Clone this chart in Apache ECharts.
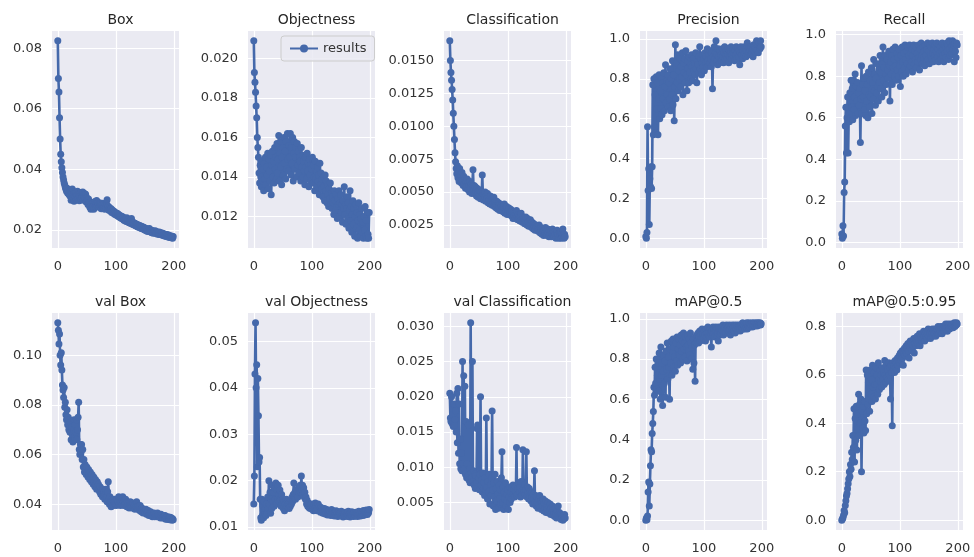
<!DOCTYPE html>
<html><head><meta charset="utf-8">
<script src="https://cdn.jsdelivr.net/npm/echarts@6/dist/echarts.min.js"></script>
<style>html,body{margin:0;padding:0;background:#fff}#c{width:974px;height:557px}</style>
</head><body><div id="c"></div>
<script>
// ---- data (epochs 0..199) ----
const titles = ['Box','Objectness','Classification','Precision','Recall','val Box','val Objectness','val Classification','mAP@0.5','mAP@0.5:0.95'];
const xTicks = [0, 100, 200];

const box = [
0.0824,0.0700,0.0655,0.0570,0.0500,0.0450,0.0425,0.0405,0.0390,0.0375,
0.0365,0.0355,0.0348,0.0340,0.0335,0.0328,0.0338,0.0322,0.0330,0.0318,
0.0325,0.0312,0.0330,0.0298,0.0320,0.0335,0.0305,0.0318,0.0295,0.0326,
0.0310,0.0322,0.0300,0.0315,0.0328,0.0305,0.0318,0.0296,0.0312,0.0324,
0.0302,0.0316,0.0308,0.0325,0.0298,0.0312,0.0320,0.0303,0.0318,0.0292,
0.0306,0.0298,0.0284,0.0302,0.0290,0.0276,0.0292,0.0268,0.0285,0.0272,
0.0290,0.0278,0.0268,0.0284,0.0294,0.0276,0.0288,0.0297,0.0280,0.0291,
0.0283,0.0275,0.0290,0.0279,0.0286,0.0270,0.0282,0.0288,0.0274,0.0284,
0.0276,0.0268,0.0282,0.0273,0.0286,0.0300,0.0272,0.0278,0.0265,0.0274,
0.0268,0.0262,0.0270,0.0258,0.0266,0.0260,0.0255,0.0262,0.0252,0.0258,
0.0250,0.0256,0.0248,0.0254,0.0245,0.0251,0.0243,0.0248,0.0240,0.0246,
0.0238,0.0244,0.0236,0.0242,0.0232,0.0239,0.0230,0.0236,0.0228,0.0240,
0.0232,0.0226,0.0235,0.0224,0.0230,0.0222,0.0228,0.0238,0.0220,0.0226,
0.0218,0.0224,0.0216,0.0222,0.0214,0.0220,0.0212,0.0218,0.0210,0.0216,
0.0209,0.0215,0.0207,0.0213,0.0205,0.0211,0.0204,0.0210,0.0202,0.0208,
0.0200,0.0206,0.0198,0.0204,0.0196,0.0203,0.0195,0.0201,0.0205,0.0197,
0.0193,0.0199,0.0191,0.0198,0.0194,0.0189,0.0196,0.0190,0.0197,0.0192,
0.0188,0.0194,0.0186,0.0192,0.0187,0.0193,0.0185,0.0191,0.0184,0.0190,
0.0183,0.0189,0.0182,0.0187,0.0180,0.0186,0.0179,0.0185,0.0178,0.0184,
0.0177,0.0183,0.0176,0.0181,0.0175,0.0180,0.0174,0.0179,0.0173,0.0178];

const objectness = [
0.0209,0.0193,0.0188,0.0183,0.0176,0.0170,0.0160,0.0155,0.0150,0.0142,
0.0137,0.0146,0.0140,0.0135,0.0148,0.0138,0.0144,0.0133,0.0147,0.0139,
0.0150,0.0136,0.0145,0.0141,0.0152,0.0134,0.0149,0.0143,0.0138,0.0151,
0.0131,0.0146,0.0153,0.0140,0.0148,0.0137,0.0155,0.0144,0.0150,0.0139,
0.0157,0.0142,0.0149,0.0161,0.0138,0.0152,0.0145,0.0158,0.0136,0.0150,
0.0155,0.0141,0.0160,0.0147,0.0153,0.0139,0.0158,0.0144,0.0162,0.0149,
0.0143,0.0156,0.0150,0.0162,0.0141,0.0155,0.0147,0.0160,0.0138,0.0152,
0.0158,0.0144,0.0150,0.0155,0.0140,0.0157,0.0146,0.0153,0.0142,0.0150,
0.0148,0.0138,0.0155,0.0145,0.0151,0.0140,0.0148,0.0143,0.0136,0.0150,
0.0145,0.0139,0.0152,0.0143,0.0147,0.0135,0.0149,0.0141,0.0146,0.0138,
0.0144,0.0150,0.0137,0.0146,0.0140,0.0133,0.0148,0.0139,0.0143,0.0135,
0.0145,0.0138,0.0141,0.0131,0.0147,0.0136,0.0142,0.0134,0.0139,0.0130,
0.0140,0.0135,0.0128,0.0141,0.0133,0.0138,0.0127,0.0136,0.0131,0.0125,
0.0134,0.0129,0.0137,0.0126,0.0132,0.0124,0.0130,0.0127,0.0121,0.0133,
0.0128,0.0123,0.0131,0.0125,0.0119,0.0129,0.0126,0.0133,0.0120,0.0127,
0.0131,0.0122,0.0126,0.0117,0.0128,0.0124,0.0135,0.0121,0.0126,0.0116,
0.0124,0.0130,0.0119,0.0127,0.0114,0.0123,0.0133,0.0118,0.0125,0.0112,
0.0121,0.0128,0.0116,0.0124,0.0110,0.0120,0.0126,0.0114,0.0122,0.0109,
0.0118,0.0127,0.0113,0.0121,0.0110,0.0119,0.0124,0.0112,0.0117,0.0109,
0.0120,0.0113,0.0125,0.0110,0.0118,0.0109,0.0122,0.0111,0.0109,0.0122];

const classification = [
0.0165,0.0150,0.0141,0.0135,0.0128,0.0120,0.0110,0.0100,0.0090,0.0080,
0.0073,0.0068,0.0064,0.0070,0.0061,0.0066,0.0058,0.0068,0.0060,0.0063,
0.0057,0.0065,0.0059,0.0055,0.0062,0.0056,0.0060,0.0053,0.0058,0.0054,
0.0060,0.0052,0.0057,0.0055,0.0050,0.0058,0.0053,0.0056,0.0049,0.0055,
0.0067,0.0052,0.0055,0.0049,0.0054,0.0051,0.0047,0.0053,0.0050,0.0046,
0.0052,0.0048,0.0051,0.0045,0.0050,0.0047,0.0063,0.0049,0.0044,0.0048,
0.0046,0.0050,0.0043,0.0047,0.0045,0.0049,0.0042,0.0046,0.0044,0.0041,
0.0047,0.0043,0.0045,0.0040,0.0044,0.0042,0.0046,0.0039,0.0043,0.0041,
0.0038,0.0043,0.0040,0.0037,0.0042,0.0039,0.0036,0.0041,0.0038,0.0040,
0.0036,0.0039,0.0035,0.0038,0.0041,0.0034,0.0037,0.0035,0.0039,0.0033,
0.0036,0.0034,0.0038,0.0033,0.0035,0.0037,0.0032,0.0036,0.0033,0.0030,
0.0035,0.0032,0.0034,0.0030,0.0033,0.0036,0.0031,0.0029,0.0033,0.0030,
0.0032,0.0028,0.0031,0.0034,0.0029,0.0027,0.0031,0.0028,0.0030,0.0026,
0.0029,0.0031,0.0027,0.0025,0.0030,0.0027,0.0024,0.0028,0.0026,0.0029,
0.0025,0.0023,0.0027,0.0025,0.0022,0.0026,0.0024,0.0021,0.0025,0.0023,
0.0021,0.0024,0.0022,0.0020,0.0025,0.0022,0.0019,0.0023,0.0021,0.0018,
0.0022,0.0020,0.0017,0.0021,0.0019,0.0023,0.0018,0.0020,0.0017,0.0022,
0.0019,0.0016,0.0021,0.0018,0.0020,0.0016,0.0019,0.0022,0.0017,0.0019,
0.0016,0.0020,0.0018,0.0015,0.0019,0.0021,0.0016,0.0018,0.0015,0.0019,
0.0017,0.0020,0.0015,0.0018,0.0016,0.0022,0.0017,0.0015,0.0018,0.0016];

const precision = [
0.010,0.002,0.030,0.560,0.240,0.350,0.070,0.300,0.260,0.360,
0.250,0.360,0.770,0.520,0.800,0.560,0.720,0.530,0.810,0.650,
0.780,0.520,0.700,0.820,0.600,0.740,0.650,0.800,0.620,0.780,
0.700,0.830,0.640,0.760,0.870,0.680,0.790,0.720,0.820,0.660,
0.780,0.700,0.850,0.640,0.800,0.720,0.890,0.670,0.820,0.590,
0.760,0.970,0.700,0.880,0.780,0.920,0.740,0.840,0.800,0.900,
0.760,0.860,0.810,0.930,0.720,0.880,0.830,0.900,0.780,0.940,
0.820,0.740,0.890,0.850,0.780,0.910,0.830,0.870,0.800,0.920,
0.860,0.790,0.900,0.840,0.880,0.820,0.930,0.850,0.780,0.890,
0.870,0.830,0.910,0.960,0.850,0.900,0.820,0.880,0.920,0.860,
0.900,0.840,0.930,0.880,0.910,0.860,0.950,0.890,0.870,0.920,
0.880,0.940,0.900,0.860,0.930,0.750,0.910,0.880,0.960,0.900,
0.930,0.990,0.890,0.920,0.870,0.950,0.910,0.880,0.940,0.900,
0.920,0.890,0.950,0.910,0.880,0.930,0.960,0.900,0.920,0.940,
0.900,0.950,0.920,0.880,0.940,0.910,0.930,0.960,0.900,0.920,
0.950,0.910,0.930,0.890,0.940,0.920,0.960,0.900,0.930,0.950,
0.910,0.940,0.870,0.930,0.960,0.920,0.950,0.900,0.940,0.920,
0.960,0.930,0.950,0.910,0.940,0.980,0.920,0.950,0.930,0.960,
0.940,0.920,0.960,0.930,0.950,0.910,0.970,0.940,0.960,0.930,
0.950,0.990,0.940,0.970,0.930,0.980,0.960,0.950,0.990,0.960];

const recall = [
0.040,0.020,0.080,0.030,0.240,0.290,0.560,0.650,0.430,0.600,
0.700,0.430,0.620,0.580,0.720,0.600,0.780,0.650,0.740,0.590,
0.780,0.640,0.700,0.810,0.610,0.750,0.680,0.770,0.620,0.720,
0.660,0.740,0.480,0.690,0.850,0.620,0.760,0.700,0.790,0.640,
0.730,0.610,0.800,0.680,0.760,0.600,0.820,0.710,0.650,0.780,
0.700,0.840,0.620,0.770,0.690,0.880,0.730,0.810,0.660,0.790,
0.720,0.860,0.750,0.680,0.830,0.770,0.900,0.740,0.820,0.700,
0.860,0.940,0.780,0.840,0.720,0.900,0.810,0.760,0.880,0.830,
0.790,0.920,0.850,0.680,0.870,0.810,0.900,0.760,0.930,0.840,
0.880,0.800,0.940,0.850,0.780,0.910,0.830,0.890,0.800,0.930,
0.850,0.750,0.900,0.820,0.940,0.870,0.800,0.910,0.840,0.950,
0.880,0.810,0.920,0.860,0.940,0.830,0.900,0.950,0.850,0.910,
0.870,0.930,0.820,0.900,0.950,0.860,0.920,0.880,0.940,0.840,
0.910,0.870,0.950,0.890,0.830,0.930,0.880,0.960,0.900,0.860,
0.940,0.890,0.920,0.850,0.950,0.900,0.870,0.930,0.960,0.880,
0.920,0.860,0.950,0.900,0.940,0.880,0.960,0.910,0.870,0.930,
0.900,0.950,0.880,0.920,0.960,0.890,0.930,0.870,0.950,0.910,
0.940,0.880,0.920,0.960,0.900,0.930,0.870,0.950,0.910,0.940,
0.890,0.960,0.920,0.950,0.880,0.970,0.930,0.900,0.960,0.940,
0.910,0.970,0.930,0.950,0.870,0.960,0.920,0.890,0.960,0.950];

const valBox = [
0.1130,0.1100,0.1045,0.1085,0.1000,0.0960,0.1010,0.0940,0.0880,0.0860,
0.0830,0.0870,0.0790,0.0810,0.0760,0.0740,0.0780,0.0720,0.0750,0.0700,
0.0740,0.0690,0.0730,0.0660,0.0710,0.0680,0.0650,0.0700,0.0740,0.0670,
0.0720,0.0690,0.0740,0.0660,0.0700,0.0750,0.0810,0.0620,0.0600,0.0640,
0.0610,0.0640,0.0580,0.0620,0.0550,0.0580,0.0530,0.0560,0.0540,0.0520,
0.0550,0.0530,0.0510,0.0540,0.0520,0.0500,0.0530,0.0510,0.0490,0.0520,
0.0500,0.0480,0.0510,0.0490,0.0470,0.0500,0.0480,0.0460,0.0490,0.0470,
0.0480,0.0460,0.0450,0.0470,0.0440,0.0460,0.0450,0.0430,0.0460,0.0440,
0.0450,0.0420,0.0440,0.0460,0.0430,0.0410,0.0450,0.0490,0.0420,0.0400,
0.0430,0.0410,0.0390,0.0420,0.0400,0.0415,0.0395,0.0410,0.0420,0.0400,
0.0410,0.0395,0.0420,0.0400,0.0410,0.0430,0.0400,0.0415,0.0395,0.0410,
0.0420,0.0400,0.0430,0.0410,0.0395,0.0415,0.0400,0.0420,0.0405,0.0390,
0.0410,0.0395,0.0405,0.0385,0.0400,0.0410,0.0390,0.0405,0.0385,0.0395,
0.0405,0.0385,0.0395,0.0380,0.0400,0.0390,0.0410,0.0385,0.0395,0.0380,
0.0390,0.0375,0.0395,0.0380,0.0370,0.0385,0.0375,0.0365,0.0380,0.0370,
0.0375,0.0365,0.0380,0.0360,0.0370,0.0360,0.0375,0.0355,0.0365,0.0360,
0.0370,0.0355,0.0365,0.0350,0.0360,0.0355,0.0365,0.0350,0.0360,0.0355,
0.0360,0.0350,0.0365,0.0355,0.0360,0.0350,0.0355,0.0345,0.0360,0.0350,
0.0355,0.0345,0.0355,0.0350,0.0345,0.0355,0.0340,0.0350,0.0345,0.0340,
0.0350,0.0340,0.0345,0.0338,0.0348,0.0340,0.0345,0.0336,0.0342,0.0338];

const valObjectness = [
0.0150,0.0210,0.0430,0.0540,0.0400,0.0450,0.0230,0.0420,0.0340,0.0240,
0.0250,0.0160,0.0120,0.0115,0.0160,0.0125,0.0145,0.0120,0.0155,0.0130,
0.0140,0.0125,0.0150,0.0130,0.0165,0.0140,0.0200,0.0150,0.0175,0.0130,
0.0160,0.0140,0.0190,0.0155,0.0175,0.0145,0.0185,0.0160,0.0195,0.0150,
0.0180,0.0160,0.0190,0.0170,0.0155,0.0180,0.0160,0.0145,0.0170,0.0150,
0.0160,0.0140,0.0155,0.0135,0.0150,0.0140,0.0160,0.0145,0.0155,0.0150,
0.0150,0.0140,0.0155,0.0145,0.0160,0.0150,0.0165,0.0155,0.0170,0.0195,
0.0165,0.0175,0.0160,0.0180,0.0170,0.0175,0.0165,0.0185,0.0175,0.0180,
0.0190,0.0175,0.0210,0.0180,0.0190,0.0170,0.0185,0.0165,0.0175,0.0160,
0.0165,0.0150,0.0158,0.0145,0.0152,0.0142,0.0150,0.0140,0.0148,0.0142,
0.0150,0.0138,0.0145,0.0135,0.0148,0.0140,0.0152,0.0138,0.0145,0.0135,
0.0142,0.0150,0.0136,0.0145,0.0138,0.0132,0.0142,0.0135,0.0140,0.0130,
0.0138,0.0132,0.0140,0.0128,0.0135,0.0130,0.0138,0.0126,0.0134,0.0130,
0.0136,0.0128,0.0133,0.0125,0.0138,0.0130,0.0127,0.0135,0.0129,0.0124,
0.0132,0.0127,0.0135,0.0125,0.0130,0.0123,0.0133,0.0128,0.0125,0.0131,
0.0126,0.0134,0.0124,0.0129,0.0122,0.0131,0.0127,0.0124,0.0132,0.0126,
0.0130,0.0123,0.0128,0.0134,0.0125,0.0129,0.0122,0.0130,0.0126,0.0133,
0.0125,0.0129,0.0123,0.0131,0.0127,0.0124,0.0132,0.0126,0.0130,0.0123,
0.0128,0.0134,0.0125,0.0130,0.0124,0.0133,0.0127,0.0131,0.0125,0.0136,
0.0129,0.0126,0.0134,0.0128,0.0137,0.0130,0.0127,0.0135,0.0131,0.0138];

const valClassification = [
0.0205,0.0170,0.0165,0.0200,0.0162,0.0175,0.0158,0.0190,0.0160,0.0168,
0.0180,0.0150,0.0205,0.0135,0.0212,0.0120,0.0190,0.0105,0.0140,0.0098,
0.0120,0.0095,0.0250,0.0105,0.0230,0.0098,0.0215,0.0090,0.0165,0.0085,
0.0105,0.0088,0.0160,0.0082,0.0098,0.0078,0.0305,0.0092,0.0085,0.0250,
0.0080,0.0095,0.0075,0.0090,0.0070,0.0088,0.0078,0.0155,0.0160,0.0072,
0.0085,0.0068,0.0090,0.0200,0.0075,0.0082,0.0065,0.0092,0.0070,0.0078,
0.0060,0.0085,0.0068,0.0170,0.0072,0.0055,0.0080,0.0065,0.0090,0.0048,
0.0075,0.0060,0.0085,0.0180,0.0068,0.0045,0.0078,0.0058,0.0090,0.0040,
0.0070,0.0052,0.0080,0.0062,0.0042,0.0075,0.0055,0.0068,0.0048,0.0085,
0.0122,0.0050,0.0072,0.0040,0.0065,0.0055,0.0078,0.0045,0.0062,0.0052,
0.0068,0.0040,0.0058,0.0072,0.0050,0.0065,0.0055,0.0070,0.0060,0.0075,
0.0062,0.0068,0.0058,0.0072,0.0065,0.0128,0.0060,0.0070,0.0062,0.0078,
0.0065,0.0072,0.0058,0.0080,0.0066,0.0060,0.0125,0.0070,0.0064,0.0075,
0.0062,0.0068,0.0122,0.0058,0.0072,0.0065,0.0055,0.0070,0.0060,0.0066,
0.0052,0.0064,0.0058,0.0048,0.0062,0.0055,0.0095,0.0050,0.0060,0.0045,
0.0058,0.0050,0.0042,0.0055,0.0048,0.0060,0.0044,0.0052,0.0040,0.0050,
0.0045,0.0055,0.0038,0.0048,0.0042,0.0052,0.0036,0.0046,0.0040,0.0050,
0.0035,0.0044,0.0038,0.0048,0.0033,0.0042,0.0036,0.0045,0.0032,0.0040,
0.0035,0.0030,0.0042,0.0034,0.0028,0.0038,0.0032,0.0045,0.0030,0.0036,
0.0028,0.0034,0.0026,0.0032,0.0029,0.0025,0.0031,0.0027,0.0033,0.0028];

const map50 = [
0.000,0.010,0.002,0.020,0.140,0.190,0.070,0.180,0.270,0.350,
0.340,0.430,0.480,0.540,0.660,0.620,0.760,0.680,0.800,0.650,
0.720,0.780,0.640,0.830,0.700,0.600,0.860,0.720,0.780,0.570,
0.740,0.820,0.680,0.790,0.610,0.840,0.750,0.880,0.700,0.810,
0.760,0.600,0.850,0.780,0.890,0.720,0.830,0.900,0.760,0.860,
0.810,0.740,0.880,0.790,0.910,0.770,0.850,0.900,0.820,0.870,
0.780,0.920,0.840,0.890,0.800,0.930,0.850,0.880,0.810,0.910,
0.860,0.790,0.920,0.870,0.840,0.900,0.820,0.930,0.880,0.800,
0.860,0.750,0.900,0.780,0.870,0.690,0.910,0.880,0.920,0.890,
0.930,0.880,0.910,0.940,0.890,0.920,0.900,0.950,0.910,0.930,
0.900,0.940,0.920,0.890,0.950,0.910,0.930,0.960,0.920,0.940,
0.910,0.950,0.930,0.860,0.940,0.920,0.960,0.930,0.950,0.910,
0.940,0.960,0.920,0.950,0.930,0.890,0.960,0.940,0.920,0.950,
0.930,0.960,0.940,0.970,0.920,0.950,0.940,0.960,0.930,0.970,
0.950,0.930,0.960,0.940,0.970,0.950,0.920,0.960,0.940,0.970,
0.950,0.960,0.940,0.970,0.930,0.960,0.950,0.970,0.940,0.960,
0.950,0.970,0.960,0.940,0.970,0.950,0.960,0.980,0.950,0.970,
0.960,0.950,0.970,0.960,0.980,0.950,0.970,0.960,0.980,0.970,
0.960,0.975,0.965,0.980,0.960,0.975,0.970,0.980,0.965,0.975,
0.970,0.980,0.965,0.975,0.980,0.970,0.975,0.980,0.970,0.975];

const map5095 = [
0.000,0.005,0.010,0.020,0.040,0.030,0.060,0.080,0.100,0.110,
0.130,0.150,0.170,0.200,0.180,0.230,0.210,0.280,0.250,0.350,
0.300,0.460,0.240,0.420,0.330,0.470,0.290,0.440,0.380,0.520,
0.350,0.480,0.400,0.500,0.200,0.450,0.380,0.470,0.360,0.490,
0.410,0.370,0.620,0.440,0.600,0.480,0.570,0.500,0.450,0.620,
0.520,0.580,0.490,0.640,0.550,0.510,0.610,0.560,0.500,0.630,
0.560,0.600,0.520,0.650,0.580,0.540,0.620,0.570,0.600,0.550,
0.630,0.580,0.610,0.560,0.660,0.600,0.570,0.640,0.590,0.620,
0.580,0.650,0.600,0.630,0.500,0.640,0.610,0.390,0.650,0.620,
0.640,0.610,0.660,0.630,0.650,0.620,0.670,0.640,0.660,0.680,
0.650,0.690,0.660,0.680,0.700,0.670,0.640,0.690,0.710,0.680,
0.700,0.720,0.690,0.710,0.730,0.700,0.670,0.720,0.740,0.710,
0.730,0.700,0.740,0.720,0.750,0.690,0.730,0.750,0.720,0.740,
0.760,0.730,0.750,0.740,0.770,0.720,0.750,0.760,0.740,0.770,
0.750,0.780,0.760,0.740,0.770,0.760,0.780,0.750,0.770,0.790,
0.760,0.780,0.770,0.750,0.780,0.770,0.790,0.760,0.780,0.770,
0.790,0.770,0.760,0.780,0.790,0.770,0.800,0.780,0.770,0.790,
0.780,0.800,0.790,0.770,0.800,0.790,0.780,0.800,0.790,0.810,
0.790,0.800,0.780,0.810,0.795,0.800,0.790,0.810,0.800,0.805,
0.800,0.810,0.795,0.805,0.815,0.800,0.810,0.805,0.815,0.810];

// y tick labels per panel
const yTicksBox = [0.02, 0.04, 0.06, 0.08];
const yTicksObj = [0.012, 0.014, 0.016, 0.018, 0.020];
const yTicksCls = [0.0025, 0.0050, 0.0075, 0.0100, 0.0125, 0.0150];
const yTicksPR = [0.0, 0.2, 0.4, 0.6, 0.8, 1.0];
const yTicksValBox = [0.04, 0.06, 0.08, 0.10];
const yTicksValObj = [0.01, 0.02, 0.03, 0.04, 0.05];
const yTicksValCls = [0.005, 0.010, 0.015, 0.020, 0.025, 0.030];
const yTicksMap95 = [0.0, 0.2, 0.4, 0.6, 0.8];
const yDecimals = [2, 3, 4, 1, 1, 2, 2, 3, 1, 1];

// ---- chart ----
const seriesData = [box, objectness, classification, precision, recall, valBox, valObjectness, valClassification, map50, map5095];
const yTicks = [yTicksBox, yTicksObj, yTicksCls, yTicksPR, yTicksPR, yTicksValBox, yTicksValObj, yTicksValCls, yTicksPR, yTicksMap95];

const FONT = 'DejaVu Sans';
const LINE = '#4569ab';
const colLeft = [52, 248, 444, 640, 836];
const rowTop = [31, 313];
const W = 127, H = 217;

const grids = [], xAxes = [], yAxes = [], series = [], titleArr = [];
for (let i = 0; i < 10; i++) {
  const c = i % 5, r = Math.floor(i / 5);
  const d = seriesData[i];
  const lo = Math.min(...d), hi = Math.max(...d);
  const m = (hi - lo) * 0.05;
  grids.push({ left: colLeft[c], top: rowTop[r], width: W, height: H, show: true,
    backgroundColor: '#eaeaf2', borderWidth: 0, containLabel: false });
  xAxes.push({ type: 'value', gridIndex: i, min: -10, max: 209,
    axisLine: { show: false },
    axisTick: { show: false, customValues: xTicks },
    axisLabel: { customValues: xTicks, color: '#333', fontFamily: FONT, fontSize: 13, margin: 12 },
    splitLine: { show: true, lineStyle: { color: '#ffffff', width: 1.2 } } });
  const dec = yDecimals[i];
  yAxes.push({ type: 'value', gridIndex: i, min: lo - m, max: hi + m,
    axisLine: { show: false },
    axisTick: { show: false, customValues: yTicks[i] },
    axisLabel: { customValues: yTicks[i], color: '#333', fontFamily: FONT, fontSize: 13, margin: 10,
      formatter: v => Number(v).toFixed(dec) },
    splitLine: { show: true, lineStyle: { color: '#ffffff', width: 1.2 } } });
  series.push({ type: 'line', name: 'results', xAxisIndex: i, yAxisIndex: i,
    data: d.map((v, k) => [k, v]), symbol: 'circle', symbolSize: 7, showSymbol: true,
    lineStyle: { color: LINE, width: 2.6 }, itemStyle: { color: LINE }, animation: false, clip: false });
  titleArr.push({ text: titles[i], left: colLeft[c] + W / 2, top: r === 0 ? 8 : 290, textAlign: 'center',
    textStyle: { fontFamily: FONT, fontSize: 14, fontWeight: 'normal', color: '#262626' } });
}

const chart = echarts.init(document.getElementById('c'), null, { renderer: 'canvas' });
chart.setOption({
  backgroundColor: '#ffffff',
  animation: false,
  title: titleArr,
  grid: grids, xAxis: xAxes, yAxis: yAxes, series: series,
  legend: { data: ['results'], left: 281, top: 36, orient: 'horizontal',
    itemWidth: 28, itemHeight: 10, itemGap: 6,
    padding: [6, 8, 6, 8], backgroundColor: 'rgba(234,234,242,0.85)',
    borderColor: '#cccccc', borderWidth: 1, borderRadius: 3,
    textStyle: { fontFamily: FONT, fontSize: 13, color: '#333' } }
});
</script></body></html>
